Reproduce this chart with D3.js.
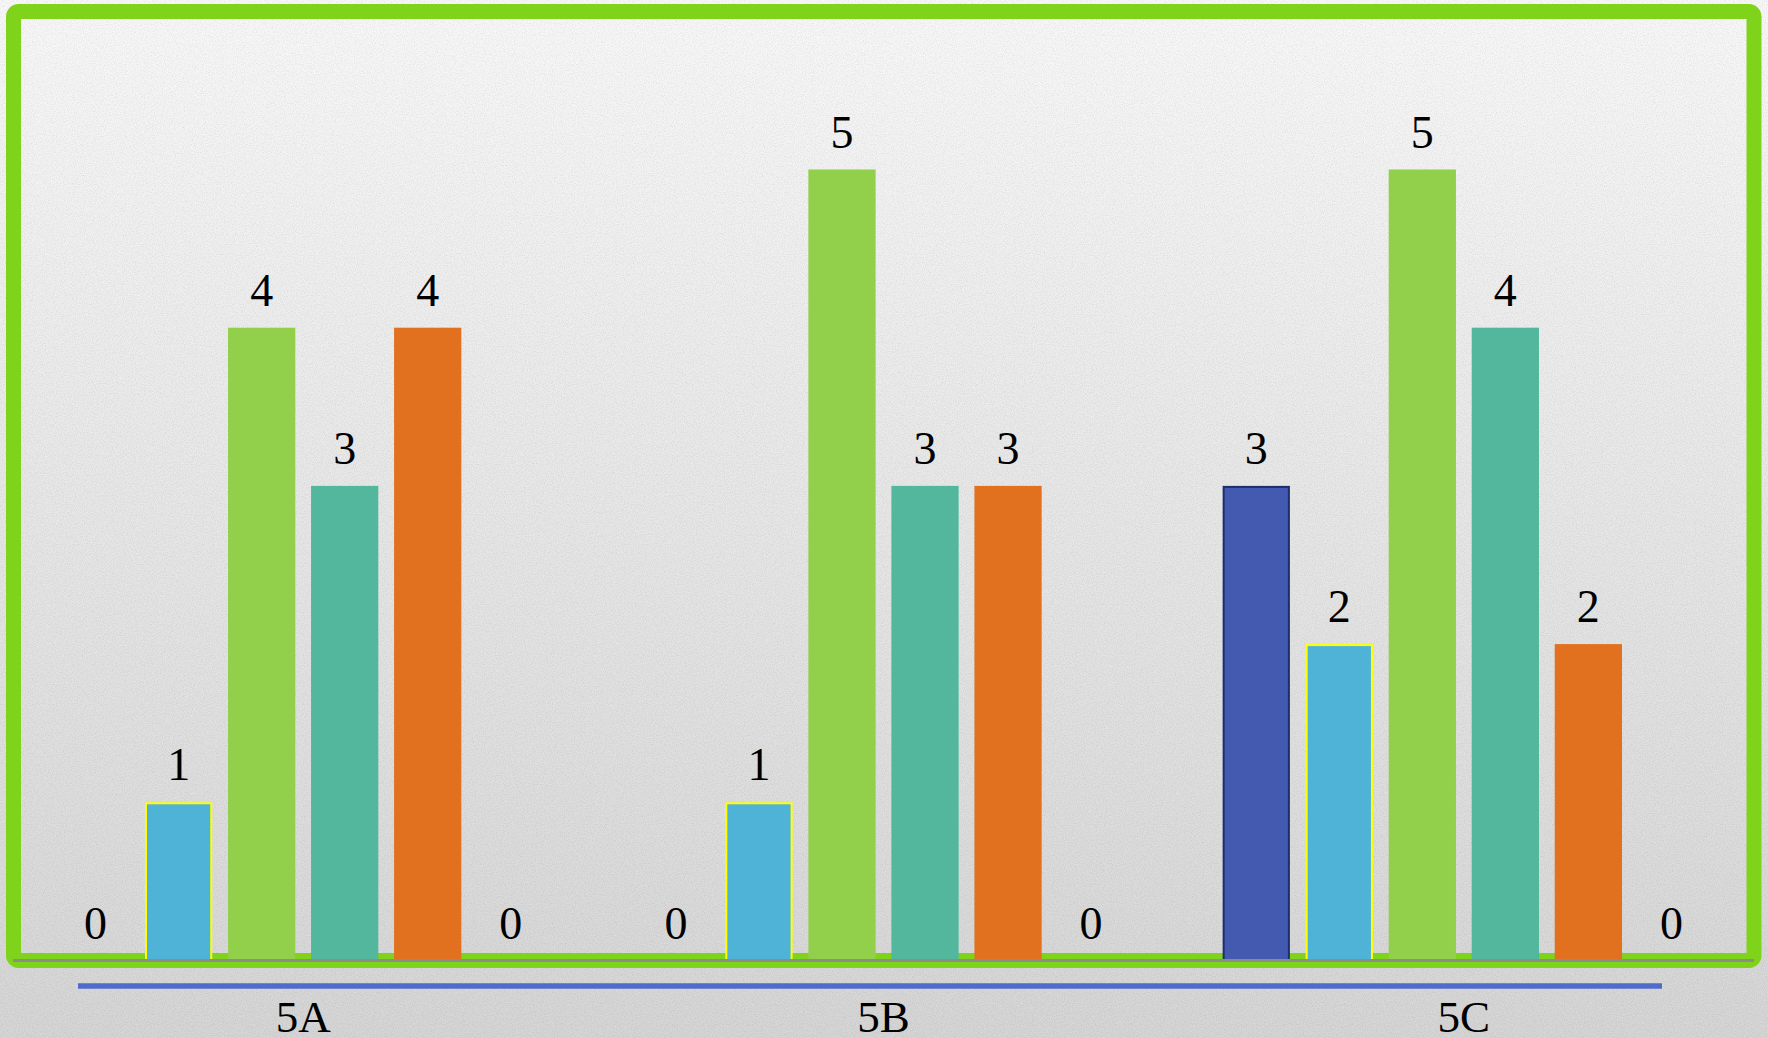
<!DOCTYPE html>
<html>
<head>
<meta charset="utf-8">
<script src="https://cdn.jsdelivr.net/npm/d3@7"></script>
<style>
html,body{margin:0;padding:0;overflow:hidden;background:#ddd;}
svg{display:block;}
</style>
</head>
<body>
<svg id="chart" width="1768" height="1038"></svg>
<script>
// ---- data ----
const categories = ["5A", "5B", "5C"];
const seriesNames = ["S1", "S2", "S3", "S4", "S5", "S6"];
const s1 = [0, 0, 3];
const s2 = [1, 1, 2];
const s3 = [4, 5, 5];
const s4 = [3, 3, 4];
const s5 = [4, 3, 2];
const s6 = [0, 0, 0];
const seriesValues = [s1, s2, s3, s4, s5, s6];
const seriesColors = ["#435AB0", "#4FB3D7", "#92CF4B", "#52B79D", "#E1711E", "#A5A5A5"];
const seriesStrokes = ["#1B2F6E", "#FFFF00", "none", "none", "none", "none"];

const W = 1768, H = 1038;
const svg = d3.select("#chart");
const defs = svg.append("defs");

const grad = defs.append("linearGradient").attr("id", "bg").attr("x1", 0).attr("y1", 0).attr("x2", 0).attr("y2", 1);
grad.append("stop").attr("offset", "0%").attr("stop-color", "#f8f8f8");
grad.append("stop").attr("offset", "100%").attr("stop-color", "#d6d6d6");

const noise = defs.append("filter").attr("id", "noise").attr("x", 0).attr("y", 0).attr("width", "100%").attr("height", "100%");
noise.append("feTurbulence").attr("type", "fractalNoise").attr("baseFrequency", 0.9).attr("numOctaves", 2).attr("seed", 3);
noise.append("feColorMatrix").attr("type", "matrix")
  .attr("values", "0 0 0 0 0  0 0 0 0 0  0 0 0 0 0  0 0 0 -1.2 0.75");

svg.append("rect").attr("width", W).attr("height", H).attr("fill", "url(#bg)");
svg.append("rect").attr("width", W).attr("height", H).attr("filter", "url(#noise)").attr("opacity", 0.12);

// ---- scales ----
const left = 13, right = 1754, baseY = 960.5;
const unit = 158.2;
const yMax = 6;
const x0 = d3.scaleBand().domain(categories).range([left, right]).padding(0);
const x1 = d3.scaleBand().domain(seriesNames).range([0, x0.bandwidth()]).paddingInner(0.19).paddingOuter(0.59);
const y = d3.scaleLinear().domain([0, yMax]).range([baseY, baseY - unit * yMax]);

// green frame
svg.append("rect")
  .attr("x", 13.5).attr("y", 11.5).attr("width", 1754 - 13.5).attr("height", baseY - 11.5)
  .attr("rx", 5).attr("fill", "none").attr("stroke", "#7FD31A").attr("stroke-width", 15);

// bars
const groups = svg.append("g").selectAll("g").data(categories).join("g")
  .attr("transform", d => `translate(${x0(d)},0)`);

groups.each(function(cat, ci) {
  const g = d3.select(this);
  seriesNames.forEach((s, si) => {
    const v = seriesValues[si][ci];
    const bx = x1(s), bw = x1.bandwidth();
    if (v > 0) {
      const hasStroke = seriesStrokes[si] !== "none";
      g.append("rect")
        .attr("x", bx + (hasStroke ? 1 : 0))
        .attr("y", y(v) + (hasStroke ? 1 : 0))
        .attr("width", bw - (hasStroke ? 2 : 0))
        .attr("height", y(0) - y(v) - (hasStroke ? 1 : 0))
        .attr("fill", seriesColors[si])
        .attr("stroke", seriesStrokes[si])
        .attr("stroke-width", hasStroke ? 2 : 0);
    }
    g.append("text")
      .attr("x", bx + bw / 2)
      .attr("y", y(v) - 22)
      .attr("text-anchor", "middle")
      .attr("font-family", "'Liberation Serif', 'Times New Roman', serif")
      .attr("font-size", 46)
      .attr("fill", "#000")
      .text(v);
  });
});

// axis line (gray) over frame
svg.append("line")
  .attr("x1", left).attr("x2", right).attr("y1", baseY).attr("y2", baseY)
  .attr("stroke", "#8C8C8C").attr("stroke-width", 3);

// blue category bar
svg.append("line")
  .attr("x1", 78).attr("x2", 1662).attr("y1", 986).attr("y2", 986)
  .attr("stroke", "#4F6BCC").attr("stroke-width", 5.5);

// category labels via axis
const axis = d3.axisBottom(x0).tickSize(0).tickPadding(0);
const ag = svg.append("g").attr("transform", `translate(0,${1031.5})`).call(axis);
ag.select(".domain").remove();
ag.selectAll("text")
  .attr("dy", 0).attr("y", 0)
  .attr("font-family", "'Liberation Serif', 'Times New Roman', serif")
  .attr("font-size", 45)
  .attr("fill", "#000");
</script>
</body>
</html>
